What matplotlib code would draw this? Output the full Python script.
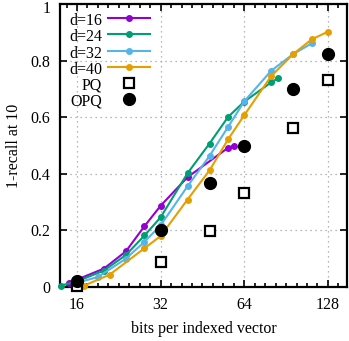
import numpy as np
import matplotlib
matplotlib.use("Agg")
import matplotlib.pyplot as plt
import matplotlib.transforms as mtransforms
from matplotlib.ticker import FixedLocator, NullFormatter, FixedFormatter

plt.rcParams['font.family'] = ['Liberation Serif', 'DejaVu Serif']
plt.rcParams['font.size'] = 11.5

# data
d16_x = [15, 20, 24, 28, 32, 40, 56, 59]
d16_y = [0.015, 0.065, 0.126, 0.215, 0.287, 0.388, 0.492, 0.50]

d24_x = [14, 16, 20, 24, 28, 32, 40, 48, 56, 64, 80, 85]
d24_y = [0.005, 0.02, 0.058, 0.113, 0.182, 0.246, 0.402, 0.507, 0.601, 0.655, 0.723, 0.739]

d32_x = [16, 19, 24, 28, 32, 40, 48, 56, 64, 80, 96, 112]
d32_y = [0.015, 0.035, 0.100, 0.160, 0.218, 0.356, 0.463, 0.566, 0.656, 0.764, 0.823, 0.861]

d40_x = [17, 21, 28, 32, 40, 48, 56, 64, 80, 96, 112, 128]
d40_y = [0.005, 0.044, 0.137, 0.180, 0.309, 0.412, 0.522, 0.607, 0.745, 0.823, 0.875, 0.902]

pq_x = [16, 32, 48, 64, 96, 128]
pq_y = [0.005, 0.088, 0.198, 0.332, 0.563, 0.733]

opq_x = [16, 32, 48, 64, 96, 128]
opq_y = [0.02, 0.2025, 0.367, 0.50, 0.698, 0.825]

curves = [("d=16", d16_x, d16_y, "#9400d3"),
          ("d=24", d24_x, d24_y, "#009e73"),
          ("d=32", d32_x, d32_y, "#56b4e9"),
          ("d=40", d40_x, d40_y, "#e69f00")]

fig = plt.figure(figsize=(3.49, 3.41), dpi=100)
ax = fig.add_axes([60/349, 1 - 287/341, 287/349, 283/341])

for name, xs, ys, c in curves:
    ax.plot(xs, ys, color=c, lw=1.5, marker='o', ms=4, clip_on=False, zorder=3)
ax.plot(pq_x, pq_y, ls='none', marker='s', ms=7, mfc='white', mec='black', mew=1.6, zorder=4, clip_on=False)
ax.plot(opq_x, opq_y, ls='none', marker='o', ms=8.5, color='black', zorder=5, clip_on=False)

ax.set_xscale('log', base=2)
ax.set_xlim(13.9, 150)
ax.set_ylim(0, 1)

major = [16, 32, 64, 128]
minor = [16 * 2 ** (k / 8) for k in range(-2, 27) if k % 8 != 0]
ax.xaxis.set_major_locator(FixedLocator(major))
ax.xaxis.set_major_formatter(FixedFormatter([str(m) for m in major]))
ax.xaxis.set_minor_locator(FixedLocator(minor))
ax.xaxis.set_minor_formatter(NullFormatter())
ax.set_yticks([0, 0.2, 0.4, 0.6, 0.8, 1])
ax.set_yticklabels(['0', '0.2', '0.4', '0.6', '0.8', '1'])

ax.tick_params(which='both', direction='in', top=True, right=True, width=1.2)
ax.tick_params(which='major', length=5, pad=7)
ax.tick_params(which='minor', length=3)
for s in ax.spines.values():
    s.set_linewidth(1.6)

# nudge the top "1" label down a little so it is not cut at the edge
top_lbl = ax.get_yticklabels()[-1]
top_lbl.set_transform(top_lbl.get_transform() +
                      mtransforms.ScaledTranslation(0, -3/100, fig.dpi_scale_trans))

ax.grid(True, which='major', ls=(0, (1, 3)), color='#a0a0a0', lw=0.9)

ax.set_xlabel('bits per indexed vector', labelpad=6)
ax.set_ylabel('1-recall at 10', labelpad=6)

# legend, drawn by hand (labels right-aligned, samples to the right)
rows = [0.949, 0.893, 0.835, 0.778, 0.722, 0.664]
tx, l0, l1, lm = 0.146, 0.167, 0.314, 0.240
for (name, xs, ys, c), ry in zip(curves, rows):
    ax.text(tx, ry - 0.01, name, transform=ax.transAxes, ha='right', va='center')
    ax.plot([l0, l1], [ry, ry], color=c, lw=1.5, transform=ax.transAxes)
    ax.plot([lm], [ry], color=c, marker='o', ms=4, transform=ax.transAxes)
ax.text(tx, rows[4] - 0.01, 'PQ', transform=ax.transAxes, ha='right', va='center')
ax.plot([lm], [rows[4]], marker='s', ms=7, mfc='white', mec='black', mew=1.6, transform=ax.transAxes)
ax.text(tx, rows[5] - 0.01, 'OPQ', transform=ax.transAxes, ha='right', va='center')
ax.plot([lm], [rows[5]], marker='o', ms=8.5, color='black', transform=ax.transAxes)

fig.savefig('out.png', dpi=100)
